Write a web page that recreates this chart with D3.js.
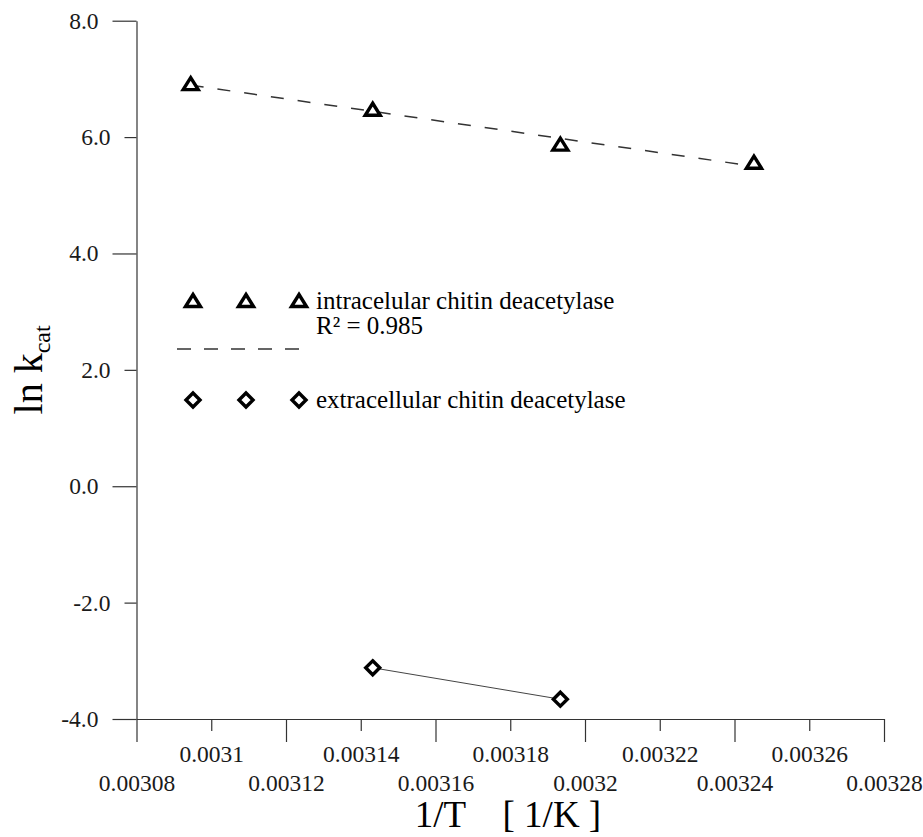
<!DOCTYPE html>
<html>
<head>
<meta charset="utf-8">
<script src="https://cdn.jsdelivr.net/npm/d3@7"></script>
<style>
  body { margin: 0; background: #fff; }
  svg { display: block; font-family: "Liberation Serif", "Times New Roman", serif; }
</style>
</head>
<body>
<div id="chart"></div>
<script>
// tick values
var xMajorTicks = [0.00308, 0.00312, 0.00316, 0.0032, 0.00324, 0.00328];
var xMinorTicks = [0.0031, 0.00314, 0.00318, 0.00322, 0.00326];
var yMajorTicks = [8, 4, 0, -4];
var yMinorTicks = [6, 2, -2];

// intracellular enzyme, 1/T and ln kcat
var intraInvT = [0.0030945, 0.0031432, 0.0031934, 0.0032452];
var intraLnK = [6.91, 6.47, 5.87, 5.56];

// extracellular enzyme
var extraInvT = [0.0031432, 0.0031934];
var extraLnK = [-3.12, -3.66];

var legendLabels = ["intracelular chitin deacetylase", "R\u00b2 = 0.985", "extracellular chitin deacetylase"];

var svgWidth = 923;
var svgHeight = 837;

var margin = { top: 20.7, right: 39, bottom: 118, left: 136.5 };

var svg = d3.select("#chart")
  .append("svg")
  .attr("width", svgWidth)
  .attr("height", svgHeight);

var xScale = d3.scaleLinear()
  .domain([0.00308, 0.00328])
  .range([margin.left, svgWidth - margin.right]);

var yScale = d3.scaleLinear()
  .domain([-4, 8])
  .range([svgHeight - margin.bottom, margin.top]);

var axisColor = "#333";
var tickFont = 23.5;

function styleAxis(g) {
  g.attr("font-family", null);
  g.selectAll("path, line").attr("stroke", axisColor).attr("stroke-width", 1.2);
  g.selectAll("text")
    .attr("fill", "#1a1a1a")
    .style("font-size", tickFont + "px")
    .style("font-family", "'Liberation Serif', serif");
}

// y axis, long ticks
svg.append("g")
  .attr("transform", `translate(${margin.left},0)`)
  .call(d3.axisLeft(yScale).tickValues(yMajorTicks).tickSize(24).tickSizeOuter(0)
    .tickPadding(14).tickFormat(d => d.toFixed(1)))
  .call(styleAxis);

// y axis, short ticks
svg.append("g")
  .attr("transform", `translate(${margin.left},0)`)
  .call(d3.axisLeft(yScale).tickValues(yMinorTicks).tickSize(12).tickSizeOuter(0)
    .tickPadding(14).tickFormat(d => d.toFixed(1)))
  .call(g => g.select(".domain").remove())
  .call(styleAxis);

var xAxisY = yScale(-4);

// x axis, long ticks with lower row of labels
svg.append("g")
  .attr("transform", `translate(0,${xAxisY})`)
  .call(d3.axisBottom(xScale).tickValues(xMajorTicks).tickSize(23).tickSizeOuter(0)
    .tickPadding(32).tickFormat(d => String(d)))
  .call(styleAxis);

// x axis, short ticks with upper row of labels
svg.append("g")
  .attr("transform", `translate(0,${xAxisY})`)
  .call(d3.axisBottom(xScale).tickValues(xMinorTicks).tickSize(12).tickSizeOuter(0)
    .tickPadding(14).tickFormat(d => String(d)))
  .call(g => g.select(".domain").remove())
  .call(styleAxis);

// axis titles
var yTitle = svg.append("text")
  .attr("transform", `translate(42,${(margin.top + xAxisY) / 2}) rotate(-90)`)
  .attr("text-anchor", "middle")
  .attr("fill", "#000")
  .style("font-size", "40px");
yTitle.append("tspan").text("ln k");
yTitle.append("tspan").attr("dy", 8).style("font-size", "24px").text("cat");

svg.append("text")
  .attr("x", 508)
  .attr("y", 827)
  .attr("text-anchor", "middle")
  .attr("fill", "#000")
  .attr("xml:space", "preserve")
  .style("font-size", "37px")
  .style("white-space", "pre")
  .text("1/T    [ 1/K ]");

// least squares line through the intracellular points
var pts = intraInvT.map((x, i) => ({ x: x, y: intraLnK[i] }));
var mx = d3.mean(pts, d => d.x);
var my = d3.mean(pts, d => d.y);
var slope = d3.sum(pts, d => (d.x - mx) * (d.y - my)) / d3.sum(pts, d => (d.x - mx) * (d.x - mx));
var icpt = my - slope * mx;
var fitEnds = d3.extent(intraInvT).map(x => ({ x: x, y: icpt + slope * x }));

var line = d3.line().x(d => xScale(d.x)).y(d => yScale(d.y));

svg.append("path")
  .datum(fitEnds)
  .attr("d", line)
  .attr("fill", "none")
  .attr("stroke", "#333")
  .attr("stroke-width", 1.5)
  .attr("stroke-dasharray", "13,14");

var extraPts = extraInvT.map((x, i) => ({ x: x, y: extraLnK[i] }));
svg.append("path")
  .datum(extraPts)
  .attr("d", line)
  .attr("fill", "none")
  .attr("stroke", "#444")
  .attr("stroke-width", 1);

var triPath = "M0,-6.5L7.5,5.5L-7.5,5.5Z";
var diaPath = "M0,-7L7,0L0,7L-7,0Z";

function drawMarkers(g, data, shape) {
  g.selectAll("path")
    .data(data)
    .enter()
    .append("path")
    .attr("d", shape)
    .attr("transform", d => `translate(${d.px},${d.py})`)
    .attr("fill", "#fff")
    .attr("stroke", "#000")
    .attr("stroke-width", 3.4)
    .attr("stroke-linejoin", "miter");
}

drawMarkers(svg.append("g"), pts.map(d => ({ px: xScale(d.x), py: yScale(d.y) })), triPath);
drawMarkers(svg.append("g"), extraPts.map(d => ({ px: xScale(d.x), py: yScale(d.y) })), diaPath);

// legend
var legend = svg.append("g");
var legendX = [193, 246, 299];

drawMarkers(legend.append("g"), legendX.map(x => ({ px: x, py: 301 })), triPath);
drawMarkers(legend.append("g"), legendX.map(x => ({ px: x, py: 400 })), diaPath);

legend.append("line")
  .attr("x1", 177).attr("x2", 306)
  .attr("y1", 349).attr("y2", 349)
  .attr("stroke", "#333").attr("stroke-width", 1.5)
  .attr("stroke-dasharray", "14,13");

var legendY = [309, 334, 408];
legend.selectAll("text")
  .data(legendLabels)
  .enter()
  .append("text")
  .attr("x", 316)
  .attr("y", (d, i) => legendY[i])
  .attr("fill", "#000")
  .style("font-size", "25px")
  .text(d => d);
</script>
</body>
</html>
